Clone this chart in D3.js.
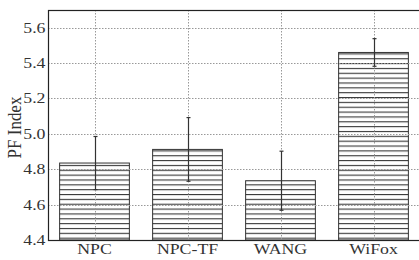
<!DOCTYPE html>
<html><head><meta charset="utf-8">
<script src="https://cdn.jsdelivr.net/npm/d3@7"></script>
<style>body{margin:0;background:#fff;overflow:hidden}svg{display:block}</style>
</head><body>
<script>
const categories = ["NPC", "NPC-TF", "WANG", "WiFox"];
const means = [4.835, 4.912, 4.735, 5.46];
const errors = [0.15, 0.18, 0.167, 0.078];
const yTicks = [4.4, 4.6, 4.8, 5.0, 5.2, 5.4, 5.6];

const W = 419, H = 260;
const m = {left: 48, right: 420, top: 10, bottom: 240};
const sx = 1.27;
const font = "Liberation Serif, DejaVu Serif, serif";

const svg = d3.select("body").append("svg").attr("width", W).attr("height", H);

const defs = svg.append("defs");
const pat = defs.append("pattern").attr("id", "hatch")
  .attr("patternUnits", "userSpaceOnUse").attr("width", 10).attr("height", 4.85);
pat.append("rect").attr("width", 10).attr("height", 4.85).attr("fill", "#fff");
pat.append("line").attr("x1", 0).attr("x2", 10).attr("y1", 0.6).attr("y2", 0.6)
  .attr("stroke", "#222").attr("stroke-width", 1);

const x = d3.scaleBand().domain(categories).range([m.left, m.right])
  .paddingInner(0.25).paddingOuter(0.125);
const y = d3.scaleLinear().domain([4.4, 5.7]).range([m.bottom, m.top]);

const data = categories.map((c, i) => ({c, v: means[i], e: errors[i]}));

// bars
svg.append("g").selectAll("rect").data(data).join("rect")
  .attr("x", d => x(d.c)).attr("width", x.bandwidth())
  .attr("y", d => y(d.v)).attr("height", d => y(4.4) - y(d.v))
  .attr("fill", "url(#hatch)").attr("stroke", "#333").attr("stroke-width", 1);

// grid
const grid = svg.append("g").attr("stroke", "#999").attr("stroke-width", 1)
  .attr("stroke-dasharray", "1.5,1.5");
grid.selectAll("line.h").data(yTicks.slice(1)).join("line").attr("class", "h")
  .attr("x1", m.left).attr("x2", m.right)
  .attr("y1", d => Math.round(y(d)) + 0.5).attr("y2", d => Math.round(y(d)) + 0.5);
grid.selectAll("line.v").data(categories).join("line").attr("class", "v")
  .attr("x1", d => Math.round(x(d) + x.bandwidth() / 2) + 0.5)
  .attr("x2", d => Math.round(x(d) + x.bandwidth() / 2) + 0.5)
  .attr("y1", m.top).attr("y2", m.bottom);

// error bars
const eb = svg.append("g").attr("stroke", "#333").attr("stroke-width", 1.2);
data.forEach(d => {
  const cx = Math.round(x(d.c) + x.bandwidth() / 2) + 0.5;
  eb.append("line").attr("x1", cx).attr("x2", cx).attr("y1", y(d.v + d.e)).attr("y2", y(d.v - d.e));
  eb.append("line").attr("x1", cx - 2).attr("x2", cx + 2).attr("y1", y(d.v + d.e)).attr("y2", y(d.v + d.e));
  eb.append("line").attr("x1", cx - 2).attr("x2", cx + 2).attr("y1", y(d.v - d.e)).attr("y2", y(d.v - d.e));
});

// axes
const ya = svg.append("g").attr("transform", `translate(${m.left},0)`)
  .call(d3.axisLeft(y).tickValues(yTicks).tickFormat(d3.format(".1f")).tickSize(0));
ya.select(".domain").remove();
ya.selectAll("text").attr("x", -2.5 / sx).attr("transform", `scale(${sx},1)`)
  .attr("font-family", font).attr("font-size", 14).attr("fill", "#333");

const xa = svg.append("g").attr("transform", `translate(0,${m.bottom})`)
  .call(d3.axisBottom(x).tickSize(0));
xa.select(".domain").remove();
xa.selectAll("text").attr("y", 14).attr("dy", 0).attr("transform", `scale(${sx},1)`)
  .attr("font-family", font).attr("font-size", 14).attr("fill", "#333");

// frame
svg.append("rect").attr("x", m.left + 0.5).attr("y", m.top + 0.5)
  .attr("width", m.right - m.left).attr("height", m.bottom - m.top)
  .attr("fill", "none").attr("stroke", "#222").attr("stroke-width", 1.2);

// y label
svg.append("text").attr("transform", "translate(20.5,127.5) rotate(-90) scale(1,1.15)")
  .attr("x", 0).attr("y", 0).attr("text-anchor", "middle")
  .style("font-family", font).style("font-size", "17px").attr("fill", "#333")
  .text("PF Index");
</script>
</body></html>
